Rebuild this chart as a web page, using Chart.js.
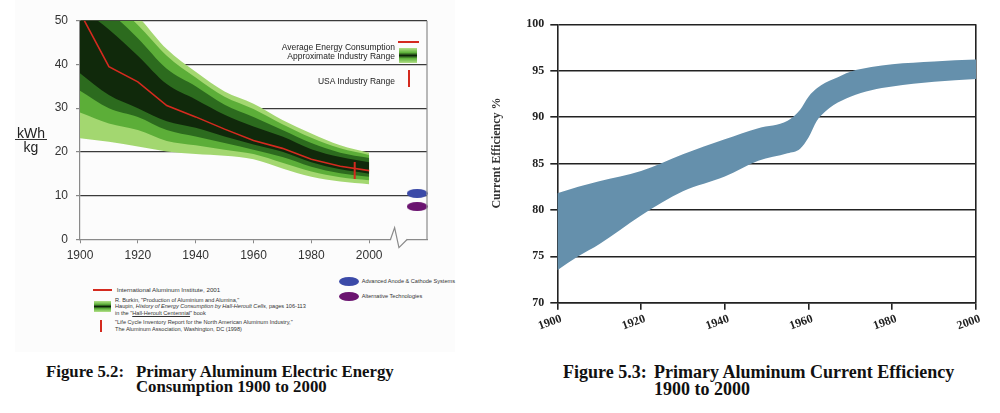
<!DOCTYPE html>
<html><head><meta charset="utf-8">
<script src="https://cdn.jsdelivr.net/npm/chart.js@4.4.1/dist/chart.umd.min.js"></script>
<style>
html,body{margin:0;padding:0;background:#fff;}
body{width:1000px;height:413px;position:relative;overflow:hidden;font-family:'Liberation Sans',Arial,sans-serif;}
.abs{position:absolute;white-space:nowrap;}
.cap{font-family:'Liberation Serif','Times New Roman',serif;font-weight:bold;color:#111;}
.capL{font-size:16.8px;line-height:18px;}
.capR{font-size:18px;line-height:20px;}
.lg{font-size:8.5px;line-height:10px;color:#222;}
.sm{font-size:5.6px;line-height:7px;color:#333;}
</style></head><body>
<div class="abs" style="left:15px;top:0;width:440px;height:352px;background:#fcfcfc"></div>
<canvas id="c1" class="abs" width="480" height="275" style="left:0;top:0;width:480px;height:275px"></canvas>
<canvas id="c2" class="abs" width="520" height="340" style="left:480px;top:0;width:520px;height:340px"></canvas>

<!-- unit label -->
<div class="abs" style="left:14px;top:124.5px;width:34px;text-align:center;font-size:14px;line-height:16px;color:#222">kWh</div>
<div class="abs" style="left:15px;top:139px;width:32px;height:1.3px;background:#333"></div>
<div class="abs" style="left:14px;top:138.7px;width:34px;text-align:center;font-size:14px;line-height:16px;color:#222">kg</div>

<!-- in-chart legend -->
<div class="abs lg" style="right:605px;top:42px;text-align:right">Average Energy Consumption</div>
<div class="abs lg" style="right:605px;top:50.7px;text-align:right">Approximate Industry Range</div>
<div class="abs lg" style="right:605px;top:75.7px;text-align:right">USA Industry Range</div>
<div class="abs" style="left:398px;top:40.8px;width:21px;height:2px;background:#d42a1f"></div>
<div class="abs" style="left:399px;top:48.3px;width:18px;height:15px;background:linear-gradient(to bottom,#b4e08a 0%,#5fb33c 30%,#0d2409 50%,#5fb33c 70%,#b4e08a 100%)"></div>
<div class="abs" style="left:408px;top:70px;width:2px;height:17px;background:#d42a1f"></div>

<!-- source legend -->
<div class="abs" style="left:93px;top:289px;width:19px;height:2px;background:#d42a1f"></div>
<div class="abs sm" style="left:116.7px;top:286.2px;font-size:6.2px">International Aluminum Institute, 2001</div>
<div class="abs" style="left:94px;top:301px;width:17px;height:11px;background:linear-gradient(to bottom,#b4e08a 0%,#5fb33c 30%,#0d2409 50%,#5fb33c 70%,#b4e08a 100%)"></div>
<div class="abs sm" style="left:115px;top:296.5px">R. Burkin, "Production of Aluminium and Alumina,"</div>
<div class="abs sm" style="left:115px;top:303.2px">Haupin, <i>History of Energy Consumption by Hall-Heroult Cells</i>, pages 106-113</div>
<div class="abs sm" style="left:115px;top:309.8px">in the "<u>Hall-Heroult Centennial</u>" book</div>
<div class="abs" style="left:100px;top:320px;width:2px;height:12px;background:#d42a1f"></div>
<div class="abs sm" style="left:115px;top:319.2px">"Life Cycle Inventory Report for the North American Aluminum Industry,"</div>
<div class="abs sm" style="left:115px;top:325.5px">The Aluminum Association, Washington, DC (1998)</div>
<div class="abs" style="left:338.5px;top:277.2px;width:20px;height:9px;border-radius:50%;background:#3b4aa8"></div>
<div class="abs sm" style="left:361.7px;top:278.2px">Advanced Anode &amp; Cathode Systems</div>
<div class="abs" style="left:338.5px;top:292.2px;width:20px;height:9px;border-radius:50%;background:#6b1470"></div>
<div class="abs sm" style="left:361.7px;top:293.2px">Alternative Technologies</div>

<!-- captions -->
<div class="abs cap capL" style="left:46px;top:362.7px">Figure 5.2:</div>
<div class="abs cap capL" style="left:136px;top:362.7px">Primary Aluminum Electric Energy</div>
<div class="abs cap capL" style="left:136px;top:378.3px">Consumption 1900 to 2000</div>
<div class="abs cap capR" style="left:563px;top:361.7px">Figure 5.3:</div>
<div class="abs cap capR" style="left:654px;top:361.7px">Primary Aluminum Current Efficiency</div>
<div class="abs cap capR" style="left:654px;top:379px">1900 to 2000</div>

<script>
// ---------- Figure 5.2 data (kWh/kg) ----------
const bandYears  = [1900, 1910, 1920, 1930, 1940, 1950, 1960, 1970, 1980, 1990, 2000];
const lightUpper = [60,   57,   51,   43.5, 38.3, 33.8, 31.0, 27.3, 24.2, 21.5, 19.8];
const greenUpper = [58,   55,   49,   42.0, 37.0, 32.6, 29.8, 26.3, 23.2, 20.8, 19.3];
const darkUpper  = [56,   52,   46,   39.0, 35.0, 30.8, 28.0, 25.0, 22.0, 19.8, 18.6];
const coreUpper  = [53,   48,   42,   35.5, 32.0, 28.5, 25.8, 23.5, 20.6, 18.8, 17.6];
const coreLower  = [38,   33,   30,   27.0, 25.5, 23.5, 21.7, 20.0, 17.6, 16.0, 15.0];
const darkLower  = [34,   30,   28,   25.0, 23.5, 22.0, 20.5, 18.8, 16.6, 15.1, 14.3];
const greenLower = [29,   26.5, 25,   22.5, 21.5, 20.5, 19.5, 17.5, 15.5, 14.2, 13.5];
const lightLower = [23.1, 22.3, 21.2, 20.1, 19.5, 19.1, 18.3, 16.2, 14.3, 13.2, 12.6];

const avgYears  = [1901.5, 1910, 1920, 1930, 1940, 1950, 1960, 1970, 1980, 1990, 2000];
const avgEnergy = [50,     39.5, 36.0, 30.6, 28.0, 25.2, 22.6, 20.8, 18.3, 16.7, 15.7];

const usaYears = [1995, 1995];
const usaRange = [13.8, 17.7];

const futureYear = [2016.6];
const advancedAnode = [10.5];
const alternativeTech = [7.5];

const leftXTicks = [1900, 1920, 1940, 1960, 1980, 2000];
const leftYTicks = [0, 10, 20, 30, 40, 50];

// ---------- Figure 5.3 data (%) ----------
const effYears = [1900, 1905, 1910, 1920, 1930, 1940, 1948, 1955, 1958, 1960, 1962, 1964, 1966, 1970, 1975, 1980, 1990, 2000];
const effUpper = [81.8, 82.5, 83.1, 84.2, 86.0, 87.6, 88.8, 89.6, 90.8, 92.2, 93.1, 93.7, 94.1, 94.9, 95.4, 95.7, 96.0, 96.2];
const effLower = [73.5, 75.0, 76.3, 79.4, 82.0, 83.6, 85.3, 86.1, 86.6, 87.8, 89.6, 90.6, 91.3, 92.2, 92.9, 93.3, 93.8, 94.1];
const rightXTicks = [1900, 1920, 1940, 1960, 1980, 2000];
const rightYTicks = [70, 75, 80, 85, 90, 95, 100];

const toXY = (xs, ys) => xs.map((x, i) => ({x: x, y: ys[i]}));
const clear = 'rgba(0,0,0,0)';

function bandPair(name, upper, lower, color) {
  return [
    {label: name + ' upper', data: toXY(bandYears, upper), fill: '+1', backgroundColor: color,
     borderColor: clear, borderWidth: 0, pointRadius: 0, cubicInterpolationMode: 'monotone'},
    {label: name + ' lower', data: toXY(bandYears, lower), fill: false,
     borderColor: clear, borderWidth: 0, pointRadius: 0, cubicInterpolationMode: 'monotone'}
  ];
}

function ellipse(color) {
  const c = document.createElement('canvas');
  c.width = 21; c.height = 9;
  const g = c.getContext('2d');
  g.fillStyle = color;
  g.beginPath(); g.ellipse(10.5, 4.5, 10.5, 4.5, 0, 0, Math.PI * 2); g.fill();
  return c;
}

const leftFrame = {
  id: 'leftFrame',
  afterDraw(chart) {
    const {ctx, scales: {x, y}} = chart;
    const xr = x.getPixelForValue(2020), y0 = y.getPixelForValue(0), yTop = y.getPixelForValue(50);
    ctx.save();
    ctx.strokeStyle = '#8a8a8a'; ctx.lineWidth = 1.2;
    ctx.beginPath(); ctx.moveTo(xr, yTop); ctx.lineTo(xr, y0); ctx.stroke();
    const b0 = x.getPixelForValue(2007.4), b1 = x.getPixelForValue(2008.8),
          b2 = x.getPixelForValue(2010.3), b3 = x.getPixelForValue(2013.2);
    ctx.fillStyle = '#fcfcfc'; ctx.fillRect(b0 + 0.5, y0 - 2, b3 - b0 - 1, 4);
    ctx.beginPath(); ctx.moveTo(b0, y0); ctx.lineTo(b1, y0 - 11.7); ctx.lineTo(b2, y0 + 8.3); ctx.lineTo(b3, y0); ctx.stroke();
    ctx.restore();
  }
};

const sansTick = {family: "'Liberation Sans', Arial, sans-serif", size: 12};

new Chart(document.getElementById('c1'), {
  type: 'line',
  data: {
    datasets: [
      {label: 'Average Energy Consumption', data: toXY(avgYears, avgEnergy), borderColor: '#d42a1f',
       borderWidth: 1.6, pointRadius: 0, fill: false, tension: 0},
      {label: 'USA Industry Range', data: toXY(usaYears, usaRange), borderColor: '#d42a1f',
       borderWidth: 2, pointRadius: 0, fill: false},
      {label: 'Advanced Anode & Cathode Systems', type: 'scatter', data: toXY(futureYear, advancedAnode),
       pointStyle: ellipse('#3b4aa8'), clip: false},
      {label: 'Alternative Technologies', type: 'scatter', data: toXY(futureYear, alternativeTech),
       pointStyle: ellipse('#6b1470'), clip: false},
      ...bandPair('core', coreUpper, coreLower, '#10290b'),
      ...bandPair('dark', darkUpper, darkLower, '#2c6b1e'),
      ...bandPair('green', greenUpper, greenLower, '#5cae38'),
      ...bandPair('light', lightUpper, lightLower, '#a3d770')
    ]
  },
  options: {
    responsive: false, animation: false, devicePixelRatio: 1,
    layout: {padding: {left: 0, right: 53, top: 20.7, bottom: 0}},
    plugins: {legend: {display: false}, tooltip: {enabled: false}},
    scales: {
      x: {
        type: 'linear', min: 1900, max: 2020,
        afterBuildTicks: s => { s.ticks = leftXTicks.concat([2020]).map(v => ({value: v})); },
        afterFit: s => { s.height = 35.7; },
        ticks: {callback: v => (v === 2020 ? '' : String(v)), font: sansTick, color: '#333', padding: 5, maxRotation: 0, autoSkip: false},
        grid: {drawOnChartArea: false, tickLength: 4, tickColor: c => (c.tick && c.tick.value === 2020 ? clear : '#888')},
        border: {display: true, color: '#8a8a8a', width: 1.2}
      },
      y: {
        min: 0, max: 50, z: 1,
        afterBuildTicks: s => { s.ticks = leftYTicks.map(v => ({value: v})); },
        afterFit: s => { s.width = 80; },
        ticks: {callback: v => String(v), font: sansTick, color: '#333', padding: 8},
        grid: {color: c => (c.tick && c.tick.value === 0 ? clear : '#3a3a3a'), lineWidth: 1.2, tickLength: 4, tickColor: '#888'},
        border: {display: true, color: '#8a8a8a', width: 1.2}
      }
    }
  },
  plugins: [leftFrame]
});

const serifTick = {family: "'Liberation Serif', 'Times New Roman', serif", size: 12, weight: 'bold'};

new Chart(document.getElementById('c2'), {
  type: 'line',
  data: {
    datasets: [
      {label: 'Current efficiency (upper)', data: toXY(effYears, effUpper), fill: '+1', backgroundColor: '#6590ac',
       borderColor: clear, borderWidth: 0, pointRadius: 0, cubicInterpolationMode: 'monotone'},
      {label: 'Current efficiency (lower)', data: toXY(effYears, effLower), fill: false,
       borderColor: clear, borderWidth: 0, pointRadius: 0, cubicInterpolationMode: 'monotone'}
    ]
  },
  options: {
    responsive: false, animation: false, devicePixelRatio: 1,
    layout: {padding: {left: 0, right: 24, top: 24.3, bottom: 0}},
    plugins: {legend: {display: false}, tooltip: {enabled: false}},
    scales: {
      x: {
        type: 'linear', min: 1900, max: 2000, z: 1,
        afterBuildTicks: s => { s.ticks = rightXTicks.map(v => ({value: v})); },
        afterFit: s => { s.height = 37.3; },
        ticks: {callback: v => String(v), font: serifTick, color: '#222', padding: 2, labelOffset: 4,
                minRotation: 20, maxRotation: 20, autoSkip: false},
        grid: {drawOnChartArea: true, color: c => (c.tick && c.tick.value === 2000 ? '#222' : clear),
               lineWidth: 1.6, tickLength: 7, tickColor: '#222', tickWidth: 1.6},
        border: {display: true, color: '#222', width: 1.6}
      },
      y: {
        min: 70, max: 100, z: 1,
        afterBuildTicks: s => { s.ticks = rightYTicks.map(v => ({value: v})); },
        afterFit: s => { s.width = 77.3; },
        title: {display: true, text: '       Current Efficiency %', font: serifTick, color: '#333', padding: {top: 10, bottom: 0}},
        ticks: {callback: v => String(v), font: serifTick, color: '#222', padding: 6},
        grid: {color: '#222', lineWidth: 1.6, tickLength: 7, tickColor: '#222'},
        border: {display: true, color: '#222', width: 1.6}
      }
    }
  }
});
</script>
</body></html>
